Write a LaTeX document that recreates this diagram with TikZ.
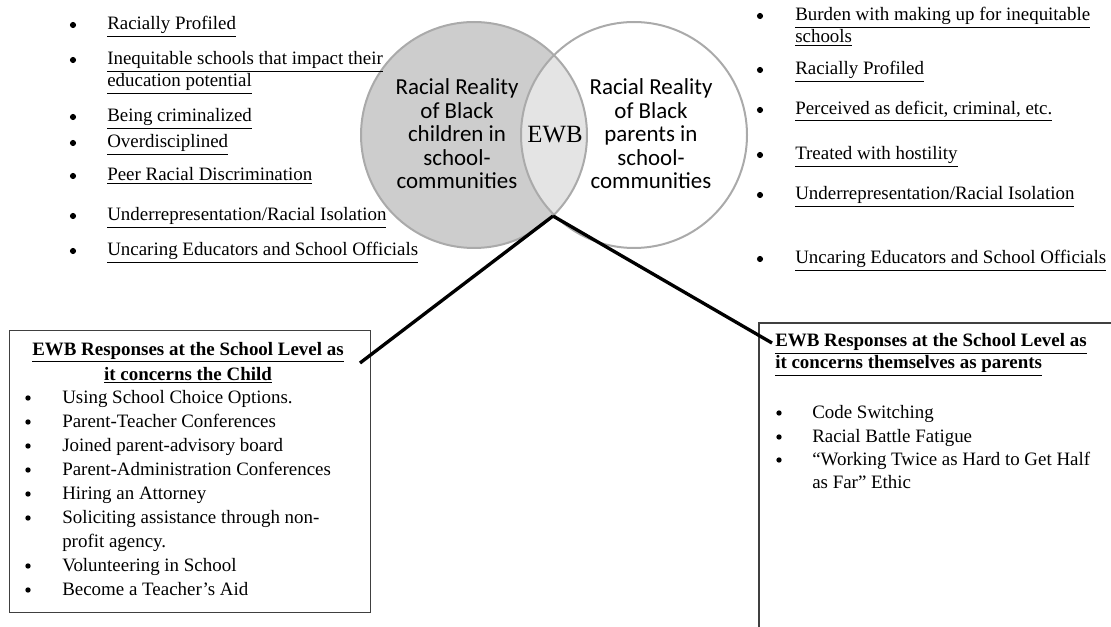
\documentclass[tikz,border=0pt]{standalone}
\usepackage{fontspec}
\setmainfont{Liberation Serif}
\newfontfamily\circfont{Carlito}
\definecolor{lgray}{HTML}{CDCDCD}
\definecolor{mgray}{HTML}{E4E4E4}
\definecolor{ogray}{HTML}{AAAAAA}
\definecolor{bgray}{HTML}{404040}
\begin{document}
\begin{tikzpicture}[x=0.75pt,y=-0.75pt,
  toptext/.style={anchor=base west,inner sep=0pt,font=\fontsize{14.2}{17}\selectfont},
  dot/.style={circle,fill=black,inner sep=0pt,minimum size=4.6pt},
  sdot/.style={circle,fill=black,inner sep=0pt,minimum size=4.0pt},
  boxtext/.style={anchor=base west,inner sep=0pt,font=\fontsize{14.2}{17}\selectfont},
  boxtitle/.style={inner sep=0pt,font=\fontsize{14.2}{17}\selectfont\bfseries},
  circtext/.style={align=center,inner sep=0pt,font=\circfont\fontsize{17.2}{17.6}\selectfont},
  venn/.style={circle,draw=ogray,line width=1.5pt,minimum size=226pt*0.75,inner sep=0pt},
  connector/.style={line width=2.5pt,black},
  framebox/.style={draw=bgray,line width=1.1pt}
]
\useasboundingbox (0,0) rectangle (1111,627);
% Venn diagram
\fill[lgray] (474,135) circle[radius=113];
\begin{scope}
  \clip (474,135) circle[radius=113];
  \fill[mgray] (634,135) circle[radius=113];
\end{scope}
\node[venn] (cleft) at (474,135) {};
\node[venn] (cright) at (634,135) {};
\node[circtext] (tleft) at (457,134) {Racial Reality\\of Black\\children in\\school-\\communities};
\node[circtext] (tright) at (651,134) {Racial Reality\\of Black\\parents in\\school-\\communities};
\node[inner sep=0pt,font=\fontsize{18.6}{20}\selectfont] (ewb) at (555,135) {EWB};
\coordinate (apex) at (553,216);
% Top-left list
\foreach \y/\t/\b [count=\i] in {
  30/{Racially Profiled}/1,
  65/{Inequitable schools that impact their}/1,
  87/{education potential}/0,
  122/{Being criminalized}/1,
  148/{Overdisciplined}/1,
  181/{Peer Racial Discrimination}/1,
  221/{Underrepresentation/Racial Isolation}/1,
  256/{Uncaring Educators and School Officials}/1}{
  \node[toptext] (ltop\i) at (107,\y) {\underline{\t}};
  \ifnum\b=1 \node[dot] (lbul\i) at (73,\y-5) {}; \fi
}
% Top-right list
\foreach \y/\t/\b [count=\i] in {
  21/{Burden with making up for inequitable}/1,
  43/{schools}/0,
  75/{Racially Profiled}/1,
  115/{Perceived as deficit, criminal, etc.}/1,
  160/{Treated with hostility}/1,
  200/{Underrepresentation/Racial Isolation}/1,
  264/{Uncaring Educators and School Officials}/1}{
  \node[toptext] (rtop\i) at (795,\y) {\underline{\t}};
  \ifnum\b=1 \node[dot] (rbul\i) at (760,\y-5) {}; \fi
}
% Bottom-left box
\node[framebox,anchor=north west,minimum width=361*0.75pt,minimum height=282*0.75pt,inner sep=0pt] (lbox) at (9,330) {};
\node[boxtitle] (lt1) at (188,352) {\underline{EWB Responses at the School Level as}};
\node[boxtitle] (lt2) at (188,375) {\underline{it concerns the Child}};
\foreach \y/\t/\b [count=\i] in {
  403/{Using School Choice Options.}/1,
  427/{Parent-Teacher Conferences}/1,
  451/{Joined parent-advisory board}/1,
  475/{Parent-Administration Conferences}/1,
  499/{Hiring an Attorney}/1,
  523/{Soliciting assistance through non-}/1,
  547/{profit agency.}/0,
  571/{Volunteering in School}/1,
  595/{Become a Teacher’s Aid}/1}{
  \node[boxtext] (li\i) at (62,\y) {\t};
  \ifnum\b=1 \node[sdot] (lib\i) at (28,\y-5) {}; \fi
}
% Bottom-right box
\draw[framebox] (1115,323) -- (759,323) -- (759,631);
\node[boxtitle,anchor=base west] (rt1) at (775,347) {\underline{EWB Responses at the School Level as}};
\node[boxtitle,anchor=base west] (rt2) at (775,369) {\underline{it concerns themselves as parents}};
\foreach \y/\t/\b [count=\i] in {
  418/{Code Switching}/1,
  442/{Racial Battle Fatigue}/1,
  465/{“Working Twice as Hard to Get Half}/1,
  488/{as Far” Ethic}/0}{
  \node[boxtext] (ri\i) at (812,\y) {\t};
  \ifnum\b=1 \node[sdot] (rib\i) at (779,\y-5) {}; \fi
}
% Connectors
\coordinate (lend) at (360,363);
\coordinate (rend) at (772,343);
\draw[connector] (apex) -- (lend);
\draw[connector] (apex) -- (rend);
\end{tikzpicture}
\end{document}
